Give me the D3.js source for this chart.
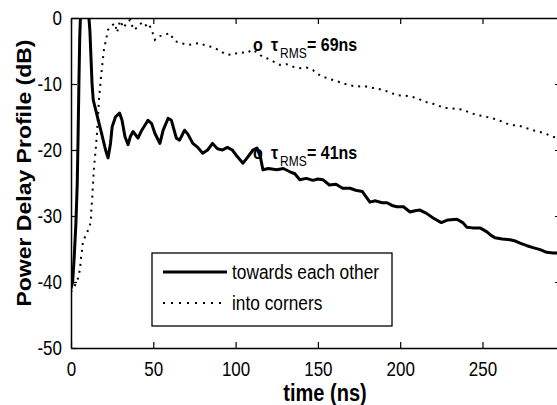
<!DOCTYPE html>
<html>
<head>
<meta charset="utf-8">
<script src="https://cdn.jsdelivr.net/npm/d3@7/dist/d3.min.js"></script>
<style>
  body { margin: 0; background: #fff; }
  svg { display: block; font-family: "Liberation Sans", Arial, sans-serif; }
</style>
</head>
<body>
<div id="chart"></div>
<script>
// ---------- DATA ---------- //
// towards each other (solid)
var towardsT = [0, 1, 2, 3, 3.8, 4.3, 4.8, 5.3, 6, 8, 10, 11.5, 12.3, 12.8, 13.5, 15.5, 18.5, 21, 22.5, 24,
  25, 27, 29.5, 31, 32.8, 34.7, 36, 37.7, 40.7, 43, 46.8, 49, 51, 54, 56, 59, 61, 64, 66, 69,
  71, 74, 77, 80, 83, 86, 89, 92, 95, 98, 101, 104.5, 107, 110.6, 113, 115, 116.6, 120, 125, 129,
  133, 136, 139, 143, 147, 150, 153, 157, 161, 165, 169.5, 173, 177, 179, 181.6, 185, 189, 192, 195, 198,
  202, 206, 209, 212, 216, 220, 225, 229, 234.5, 238, 240.5, 244, 248.5, 252.7, 255, 257.6, 262, 266.7, 270, 272.8,
  277, 280.7, 285, 289, 293, 297];
var towardsDB = [-41, -40, -36, -31, -25, -18, -10, -3, 2, 4, 3, -2, -7, -10, -12.4, -14.4, -17.4, -20, -21.2, -19,
  -16.5, -15, -14.4, -15.5, -18, -19.2, -18, -17.2, -18.2, -17, -15.5, -16, -17.5, -19, -17, -15.2, -15.5, -18.2, -18.5, -17,
  -17.6, -19, -19.6, -20.5, -20, -19, -19.8, -20, -19.6, -20, -21, -22, -21.2, -20, -19.7, -21, -23, -22.8, -23, -22.8,
  -23.3, -23.6, -24.5, -24.3, -24.6, -24.4, -24.5, -25.3, -25.2, -25.8, -25.8, -26.1, -26.3, -27, -27.9, -27.7, -28, -28, -28.4, -28.6,
  -28.6, -29.4, -29.2, -29.1, -29.6, -30.3, -31, -30.6, -30.5, -31, -31.7, -31.8, -31.8, -32.4, -32.9, -33.3, -33.5, -33.6, -33.8, -34.1,
  -34.5, -34.8, -35.1, -35.5, -35.6, -35.6];

// into corners (dotted)
var cornersT = [0, 2.4, 4.3, 5.5, 6, 6.7, 7.3, 9.7, 12, 12.3, 12.8, 13.4, 14, 15, 15.8, 17, 18.2, 20, 21.3, 22.5,
  24.5, 26.7, 28, 29.8, 32, 34, 36, 38, 40, 43, 45, 47, 49, 51, 53, 56, 60, 63, 67, 71,
  75, 78, 82, 86, 90, 94, 98, 102, 107, 110, 113, 116, 119, 123, 127, 131, 135, 139, 143, 147,
  150, 153, 158, 163, 168, 173.5, 178, 183.5, 189.6, 194, 198, 204, 210, 214, 218, 222, 226, 232, 238, 242,
  246.5, 251, 256, 261, 266.7, 272, 277, 282, 287, 293, 297];
var cornersDB = [-41.5, -40.5, -39.4, -38, -36.5, -35.2, -33.8, -32.6, -31, -29.2, -27.7, -25, -22.5, -20, -17.4, -12.4, -9, -4.8, -3.3, -1.8,
  -1.2, -0.8, -2.2, -0.4, -1.5, -0.6, -0.3, -1.8, -1.5, -0.7, -1.2, -0.8, -1.8, -3.3, -2.8, -2.6, -2.3, -3.5, -3.8, -4.1,
  -3.9, -3.8, -4.2, -4.4, -4.9, -5.5, -5.6, -5.2, -5.3, -4.8, -5.2, -5.8, -6.1, -6.6, -7.1, -7, -7.4, -7.6, -7.5, -7.9,
  -8.5, -8.9, -9.3, -9.7, -10.1, -10.4, -10.3, -10.6, -10.9, -11.3, -11.7, -11.8, -12.1, -12.6, -12.9, -13.1, -13.6, -13.7, -13.9, -14.3,
  -14.7, -14.9, -15.2, -15.6, -16.2, -16.3, -16.7, -17.1, -17.4, -18, -18.2];

var xTicks = [0, 50, 100, 150, 200, 250];
var yTicks = [0, -10, -20, -30, -40, -50];
var seriesNames = ["towards each other", "into corners"];
var tauLabels = ["69ns", "41ns"];

// ---------- CHART ---------- //
var width = 557, height = 405;
var margin = {left: 71, right: 561, top: 18, bottom: 348};
var stretch = 1.15; // the picture's text is a bit taller than it is wide

var svg = d3.select("#chart").append("svg")
  .attr("width", width)
  .attr("height", height);

svg.append("rect").attr("width", width).attr("height", height).attr("fill", "#fff");

var x = d3.scaleLinear().domain([0, 297.7]).range([margin.left, margin.right]);
var y = d3.scaleLinear().domain([-50, 0]).range([margin.bottom, margin.top]);

svg.append("clipPath").attr("id", "plot")
  .append("rect")
  .attr("x", margin.left).attr("y", margin.top)
  .attr("width", margin.right - margin.left).attr("height", margin.bottom - margin.top);

var line = d3.line()
  .x(d => x(d[0]))
  .y(d => y(d[1]));

var towards = towardsT.map((t, i) => [t, towardsDB[i]]);
var corners = cornersT.map((t, i) => [t, cornersDB[i]]);

var lines = svg.append("g").attr("clip-path", "url(#plot)");

lines.append("path")
  .datum(corners)
  .attr("d", line)
  .attr("fill", "none")
  .attr("stroke", "#000")
  .attr("stroke-width", 2)
  .attr("stroke-dasharray", "2,5");

lines.append("path")
  .datum(towards)
  .attr("d", line)
  .attr("fill", "none")
  .attr("stroke", "#000")
  .attr("stroke-width", 3)
  .attr("stroke-linejoin", "round");

// axes (MATLAB box, ticks inside)
function styleAxis(g) {
  g.select(".domain").attr("stroke", "#000").attr("stroke-width", 1.5);
  g.selectAll(".tick line").attr("stroke", "#000").attr("stroke-width", 1.2);
  g.selectAll(".tick text")
    .attr("fill", "#000")
    .attr("transform", "scale(1," + stretch + ")")
    .style("font-size", "17px")
    .style("font-family", "'Liberation Sans', Arial, sans-serif");
}

svg.append("g")
  .attr("transform", "translate(0," + margin.bottom + ")")
  .call(d3.axisBottom(x).tickValues(xTicks).tickSizeInner(-6).tickSizeOuter(0).tickPadding(12.5))
  .call(styleAxis);

svg.append("g")
  .attr("transform", "translate(0," + margin.top + ")")
  .call(d3.axisTop(x).tickValues(xTicks).tickSizeInner(-6).tickSizeOuter(0).tickFormat(""))
  .call(styleAxis);

svg.append("g")
  .attr("transform", "translate(" + margin.left + ",0)")
  .call(d3.axisLeft(y).tickValues(yTicks).tickSizeInner(-6).tickSizeOuter(0).tickPadding(9)
    .tickFormat(d => String(d)))
  .call(styleAxis);

svg.append("g")
  .attr("transform", "translate(" + margin.right + ",0)")
  .call(d3.axisRight(y).tickValues(yTicks).tickSizeInner(-6).tickSizeOuter(0).tickFormat(""))
  .call(styleAxis);

// axis labels
svg.append("text")
  .attr("transform", "translate(325,401) scale(1," + stretch + ")")
  .attr("text-anchor", "middle")
  .style("font-size", "20px")
  .style("font-weight", "bold")
  .text("time (ns)");

svg.append("text")
  .attr("transform", "translate(31,173) rotate(-90) scale(" + stretch + ",1)")
  .attr("text-anchor", "middle")
  .style("font-size", "20px")
  .style("font-weight", "bold")
  .text("Power Delay Profile (dB)");

// tau annotations
function tauLabel(yBase, value) {
  var t = svg.append("text")
    .attr("transform", "translate(253," + yBase + ") scale(1," + stretch + ")")
    .style("font-size", "16px")
    .style("font-weight", "bold");
  t.append("tspan").attr("x", 0).text("o");
  t.append("tspan").attr("x", 18).text("\u03c4");
  t.append("tspan").attr("x", 27).attr("dy", 6)
    .style("font-size", "12px").style("font-weight", "normal").text("RMS");
  t.append("tspan").attr("x", 54).attr("dy", -6).text("= " + value);
}
tauLabel(51, tauLabels[0]);
tauLabel(159, tauLabels[1]);

// legend
var legend = svg.append("g");
legend.append("rect")
  .attr("x", 152).attr("y", 253)
  .attr("width", 240).attr("height", 73)
  .attr("fill", "#fff")
  .attr("stroke", "#000")
  .attr("stroke-width", 1.3);

var legendRows = [
  {name: seriesNames[0], y: 272, width: 3, dash: null},
  {name: seriesNames[1], y: 303, width: 2, dash: "2,6"}
];

legendRows.forEach(function (r) {
  legend.append("line")
    .attr("x1", 163).attr("x2", 227)
    .attr("y1", r.y).attr("y2", r.y)
    .attr("stroke", "#000")
    .attr("stroke-width", r.width)
    .attr("stroke-dasharray", r.dash);
  legend.append("text")
    .attr("transform", "translate(232," + (r.y + 7) + ") scale(1," + stretch + ")")
    .style("font-size", "17.3px")
    .text(r.name);
});
</script>
</body>
</html>
